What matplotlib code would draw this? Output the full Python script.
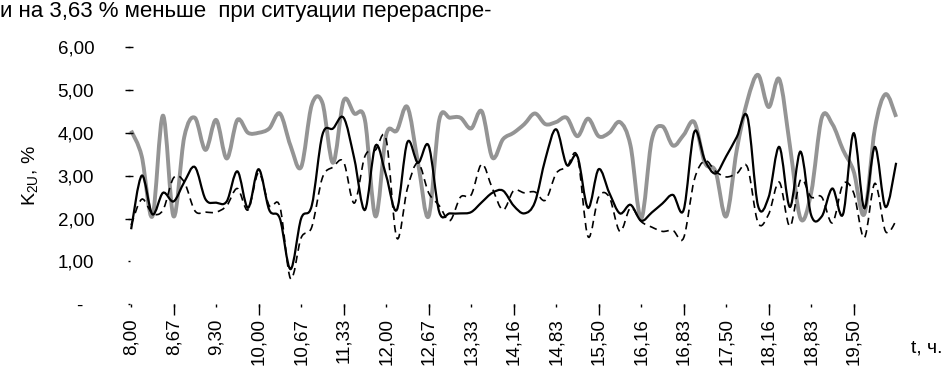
import numpy as np
import matplotlib.pyplot as plt
from matplotlib.path import Path
from matplotlib.patches import PathPatch

plt.rcParams['font.family'] = ['Liberation Sans', 'DejaVu Sans']

# time labels, one every 4th reading (readings every 10 min, 8:00..20:00)
hour_labels = ['8,00', '8,67', '9,30', '10,00', '10,67', '11,33', '12,00', '12,67',
               '13,33', '14,16', '14,83', '15,50', '16,16', '16,83', '17,50',
               '18,16', '18,83', '19,50']

y_ticks = [0, 1, 2, 3, 4, 5, 6]
y_labels = ['-  ', '1,00', '2,00', '3,00', '4,00', '5,00', '6,00']

# K2U, %
k2u_solid = [1.75, 3.0, 2.1, 2.6, 2.4, 2.85, 3.2, 2.45, 2.37, 2.4,
             3.1, 2.25, 3.15, 2.2, 2.0, 0.82, 2.0, 2.3, 3.95, 4.1,
             4.35, 3.4, 2.2, 3.7, 3.0, 2.2, 3.78, 3.3, 3.7, 2.15,
             2.12, 2.12, 2.15, 2.38, 2.6, 2.65, 2.3, 2.12, 2.38, 3.4,
             4.08, 3.25, 3.45, 2.25, 3.15, 2.6, 2.12, 2.32, 1.95, 2.14,
             2.35, 2.55, 2.2, 4.02, 3.36, 3.05, 3.45, 3.9, 4.37, 2.3,
             2.5, 3.67, 2.27, 3.56, 2.08, 2.05, 2.7, 2.1, 3.99, 2.24,
             3.67, 2.27, 3.3]

k2u_dashed = [1.85, 2.45, 2.12, 2.2, 2.95, 2.85, 2.18, 2.15, 2.15, 2.3,
              2.7, 2.2, 3.07, 2.3, 2.28, 0.6, 1.55, 1.8, 2.95, 3.2,
              3.32, 2.36, 3.45, 3.6, 3.85, 1.55, 2.7, 3.3, 2.6, 2.3,
              1.95, 2.5, 2.55, 3.27, 2.7, 2.2, 2.65, 2.6, 2.62, 2.43,
              3.05, 3.2, 3.45, 1.58, 2.5, 2.5, 1.7, 2.25, 1.93, 1.8,
              1.7, 1.72, 1.55, 2.9, 3.35, 3.1, 2.97, 3.05, 3.2, 1.9,
              2.1, 2.85, 1.82, 2.9, 2.5, 2.5, 1.9, 2.8, 2.6, 1.55,
              2.82, 1.7, 1.95]

k2u_grey = [4.05, 3.45, 2.05, 4.4, 2.05, 3.9, 4.35, 3.6, 4.3, 3.4,
            4.3, 4.0, 4.0, 4.1, 4.45, 3.7, 3.2, 4.65, 4.7, 3.3,
            4.75, 4.45, 4.3, 2.05, 3.95, 4.05, 4.6, 3.3, 2.05, 4.3,
            4.35, 4.35, 4.1, 4.5, 3.42, 3.85, 4.0, 4.2, 4.45, 4.2,
            4.25, 4.35, 3.92, 4.33, 3.92, 4.0, 4.25, 3.7, 2.0, 3.83,
            4.15, 3.7, 3.95, 4.25, 3.3, 3.1, 2.05, 3.6, 4.75, 5.35,
            4.6, 5.25, 3.7, 2.0, 2.6, 4.35, 4.2, 3.6, 3.1, 2.1,
            4.1, 4.9, 4.37]


def smooth_path(y):
    # excel-like smoothed line: catmull-rom through the readings as beziers
    x = np.arange(len(y), dtype=float)
    pts = np.column_stack([x, np.asarray(y, dtype=float)])
    ext = np.vstack([pts[0], pts, pts[-1]])
    verts = [pts[0]]
    codes = [Path.MOVETO]
    for i in range(len(pts) - 1):
        p0, p1, p2, p3 = ext[i], ext[i + 1], ext[i + 2], ext[i + 3]
        verts += [p1 + (p2 - p0) / 6, p2 - (p3 - p1) / 6, p2]
        codes += [Path.CURVE4] * 3
    return Path(verts, codes)


fig = plt.figure(figsize=(9.43, 3.68), dpi=100)
ax = fig.add_axes([129 / 943, 63.7 / 368, 771.4 / 943, 257.3 / 368])

ax.add_patch(PathPatch(smooth_path(k2u_grey), fill=False, edgecolor='0.58',
                       lw=2.8, capstyle='butt', joinstyle='round'))
ax.add_patch(PathPatch(smooth_path(k2u_dashed), fill=False, edgecolor='black',
                       lw=1.2, linestyle=(0, (4.5, 3))))
ax.add_patch(PathPatch(smooth_path(k2u_solid), fill=False, edgecolor='black',
                       lw=1.6))

ax.set_xlim(-0.2, 72.4)
ax.set_ylim(0, 6)
for s in ax.spines.values():
    s.set_visible(False)

ax.xaxis.remove_overlapping_locs = False
ax.yaxis.remove_overlapping_locs = False

ax.set_xticks(np.arange(0, 72, 4))
ax.set_xticklabels(hour_labels, rotation=90, va='top')
ax.set_xticks(np.arange(4, 72, 8), minor=True)
ax.tick_params(axis='x', which='major', length=2, width=1, pad=8, labelsize=13.5)
ax.tick_params(axis='x', which='minor', length=8, width=1)

ax.set_yticks(y_ticks)
ax.set_yticklabels(y_labels)
ax.set_yticks([2, 3, 4, 5, 6], minor=True)
ax.tick_params(axis='y', which='major', length=2, width=1, direction='inout',
               pad=24, labelsize=13.5)
ax.tick_params(axis='y', which='minor', length=6, width=1, direction='inout')

fig.text(31 / 943, 1 - 176 / 368, r'K$_{\mathregular{2U}}$, %', rotation=90,
         ha='center', va='center', fontsize=14)
fig.text(911 / 943, 1 - 348 / 368, 't, ч.', ha='left', va='center', fontsize=14)
fig.text(0.0, 1 - 12 / 368, 'и на 3,63 % меньше  при ситуации перераспре-',
         ha='left', va='center', fontsize=16)

fig.savefig('out.png', dpi=100)
